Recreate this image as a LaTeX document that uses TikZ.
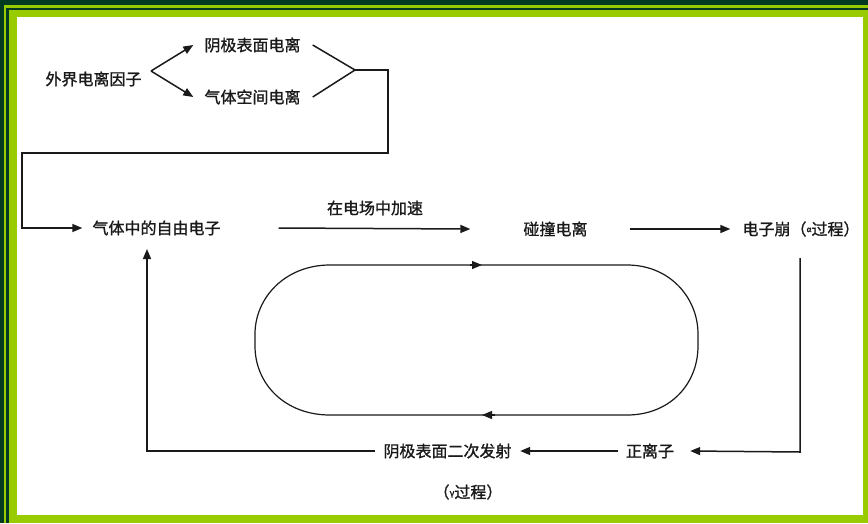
\documentclass[tikz,border=0pt]{standalone}
\usepackage{fontspec}
\newfontfamily\cjk[FakeBold=1.2]{Noto Sans CJK SC}
\usetikzlibrary{arrows.meta}
\definecolor{limeg}{HTML}{99CC00}
\definecolor{dkgreen}{HTML}{053A22}
\definecolor{ink}{HTML}{1A1A1A}
\begin{document}
\begin{tikzpicture}[x=1pt,y=-1pt,
  t/.style={inner sep=0pt, font=\cjk\fontsize{16}{18}\selectfont, text=ink},
  ln/.style={draw=ink, line width=1.5pt},
  arr/.style={ln, -{Triangle[length=10pt,width=8pt]}}]
\useasboundingbox (0,0) rectangle (868,523);
% frame
\fill[limeg] (0,0) rectangle (868,523);
\fill[dkgreen] (0,0) rectangle (868,5);
\fill[dkgreen] (0,0) rectangle (4,523);
\fill[dkgreen] (6,8) rectangle (868,10);
\fill[dkgreen] (6,8) rectangle (9,523);
\fill[white] (17,17) rectangle (863,515);
% nodes
\node[t] (ext)  at (93.5,79)  {外界电离因子};
\node[t] (cath) at (252.5,45) {阴极表面电离};
\node[t] (gas)  at (252.5,97) {气体空间电离};
\node[t] (free) at (156.5,228) {气体中的自由电子};
\node[t] (acc)  at (375,208) {在电场中加速};
\node[t] (coll) at (555.5,229) {碰撞电离};
\node[t] (aval) at (801,229) {电子崩（\raisebox{3pt}{\fontsize{8}{8}\selectfont α}过程）};
\node[t] (pos)  at (650,451) {正离子};
\node[t] (sec)  at (447.5,451) {阴极表面二次发射};
\node[t] (gam)  at (468,492) {（\raisebox{2pt}{\fontsize{9}{9}\selectfont γ}过程）};
% upper part
\coordinate (b) at (151,71);
\coordinate (j) at (355,70);
\draw[arr] (b) -- ([xshift=-11pt]cath.west);
\draw[arr] (b) -- ([xshift=-11pt]gas.west);
\draw[ln] ([xshift=12pt]cath.east) -- (j);
\draw[ln] ([xshift=12pt]gas.east) -- (j);
\draw[arr] (j) -- (388,70) -- (388,153) -- (22,153) -- (22,228) -- ([xshift=-10pt]free.west);
% main row
\draw[arr] ([xshift=58pt]free.east) -- ([xshift=-53pt]coll.west);
\draw[arr] ([xshift=42pt]coll.east) -- ([xshift=-12pt]aval.west);
\coordinate (r1) at (800,258);
\coordinate (r2) at (800,452);
\draw[arr] (r1) -- (r2) -- ([xshift=16pt]pos.east);
\draw[arr] ([xshift=-8pt]pos.west) -- ([xshift=8.5pt]sec.east);
\coordinate (l1) at (147,451);
\coordinate (l2) at (147,249);
\draw[arr] ([xshift=-8pt]sec.west) -- (l1) -- (l2);
% loop
\draw[ln, line width=1.2pt] (330,265) -- (627,265)
  .. controls (670,265) and (698,298) .. (698,334) -- (698,346)
  .. controls (698,384) and (670,415) .. (627,415) -- (330,415)
  .. controls (285,415) and (255,384) .. (255,346) -- (255,334)
  .. controls (255,298) and (285,265) .. (330,265) -- cycle;
\draw[arr, line width=1.2pt] (470,265) -- (482,265);
\draw[arr, line width=1.2pt] (495,415) -- (482,415);
\end{tikzpicture}
\end{document}
